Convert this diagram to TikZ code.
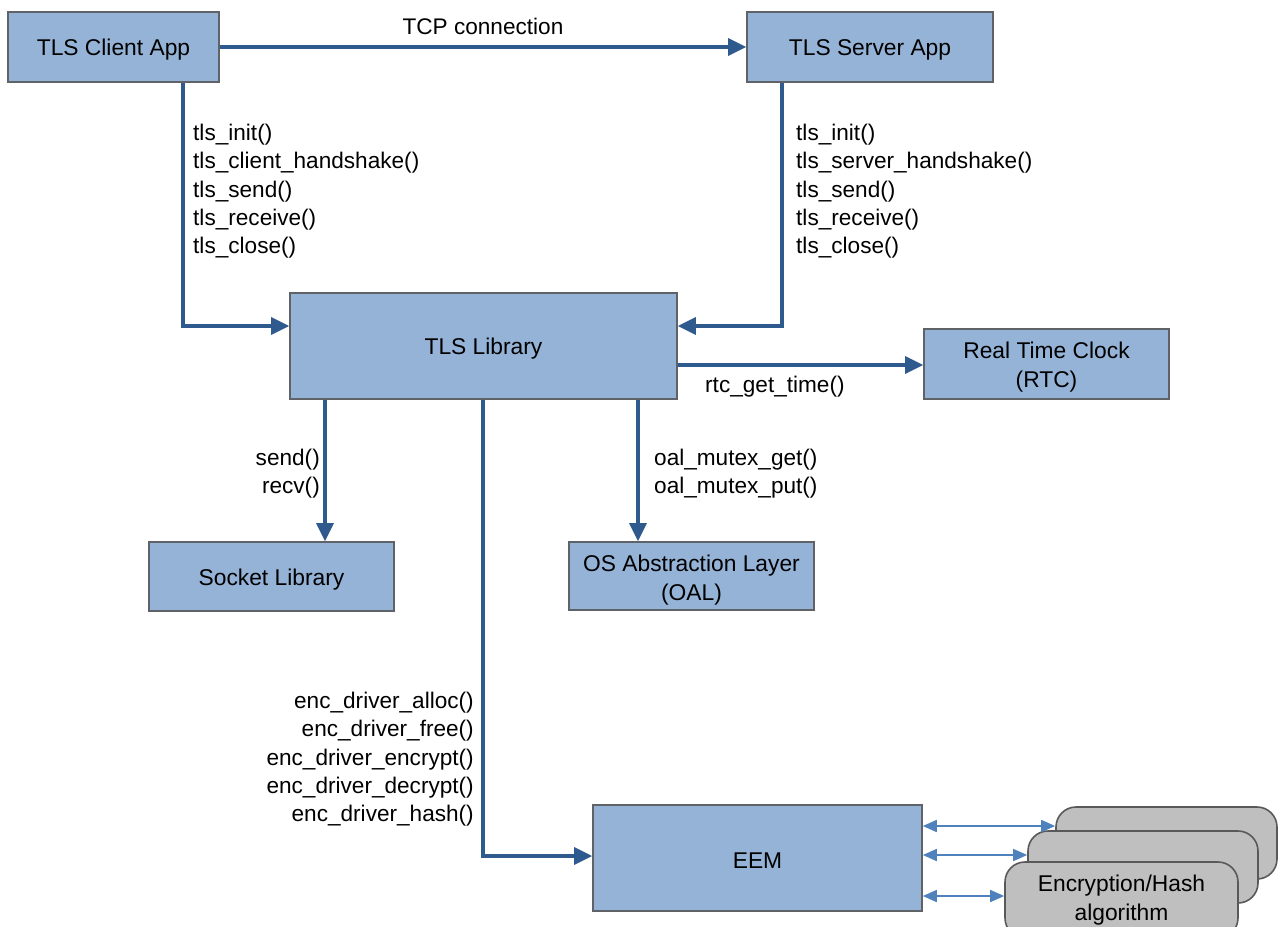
\documentclass[tikz,border=0pt]{standalone}
\usepackage{fontspec}
\setmainfont{Liberation Sans}
\usetikzlibrary{arrows.meta}
\definecolor{boxfill}{HTML}{95B3D7}
\definecolor{boxline}{HTML}{5F6368}
\definecolor{wire}{HTML}{2F5A8E}
\definecolor{thinwire}{HTML}{4F81BD}
\definecolor{algfill}{HTML}{BFBFBF}
\definecolor{algline}{HTML}{595959}
\tikzset{
  block/.style={draw=boxline, line width=1.6pt, fill=boxfill, inner sep=0pt},
  boxtext/.style={inner sep=0pt, align=center, yshift=-3pt,
    font=\fontsize{22.8}{29}\selectfont},
  algbox/.style={draw=algline, line width=1.6pt, fill=algfill, rounded corners=20pt,
    inner sep=0pt, align=center, font=\fontsize{22.8}{28.5}\selectfont},
  call/.style={draw=wire, line width=3.3pt, -{Triangle[length=18pt,width=17pt]}},
  link/.style={draw=thinwire, line width=1.6pt,
    {Triangle[length=14pt,width=12pt]}-{Triangle[length=14pt,width=12pt]}},
  lbl/.style={inner sep=0pt, font=\fontsize{22.6}{28.3}\selectfont}
}
\begin{document}
\begin{tikzpicture}[x=1pt,y=-1pt]
\useasboundingbox (0,0) rectangle (1278,927);

% application and library blocks
\node[block, minimum width=211pt, minimum height=70pt,
  label={[boxtext]center:TLS Client App}] (client) at (113.5,47) {};
\node[block, minimum width=246pt, minimum height=70pt,
  label={[boxtext]center:TLS Server App}] (server) at (870,47) {};
\node[block, minimum width=387pt, minimum height=106pt,
  label={[boxtext]center:TLS Library}] (lib) at (483.5,346) {};
\node[block, minimum width=245pt, minimum height=70pt,
  label={[boxtext]center:Real Time Clock\\(RTC)}] (rtc) at (1046.5,364) {};
\node[block, minimum width=245pt, minimum height=69pt,
  label={[boxtext]center:Socket Library}] (sock) at (271.5,576.5) {};
\node[block, minimum width=245pt, minimum height=68pt,
  label={[boxtext, yshift=-1.5pt]center:OS Abstraction Layer\\(OAL)}] (oal) at (691.5,576) {};
\node[block, minimum width=329pt, minimum height=106pt,
  label={[boxtext]center:EEM}] (eem) at (757.5,858) {};

% stacked algorithm engines
\node[algbox, minimum width=221pt, minimum height=72pt] (alg3) at (1166.5,843) {};
\node[algbox, minimum width=230pt, minimum height=72pt] (alg2) at (1143,867) {};
\node[algbox, minimum width=233pt, minimum height=76pt] (alg1) at (1121.5,900) {Encryption/Hash\\algorithm};

% TCP link between the applications
\draw[call] (client.east) -- (server.west)
  node[lbl, midway, above=11pt] (tcp) {TCP connection};

% API calls into the TLS library
\coordinate (cturn) at (183,326);
\coordinate (sturn) at (782,326);
\draw[call] (client.south -| cturn) -- (cturn) -- (cturn -| lib.west);
\draw[call] (server.south -| sturn) -- (sturn) -- (sturn -| lib.east);
\node[lbl, anchor=north west, align=left] (clientapi) at (193,124)
  {tls\_init()\\tls\_client\_handshake()\\tls\_send()\\tls\_receive()\\tls\_close()};
\node[lbl, anchor=north west, align=left] (serverapi) at (796,124)
  {tls\_init()\\tls\_server\_handshake()\\tls\_send()\\tls\_receive()\\tls\_close()};

% calls out of the TLS library
\coordinate (rtcy) at (0,365);
\draw[call] (lib.east |- rtcy) -- (rtc.west |- rtcy);
\node[lbl, anchor=north west] (rtcapi) at (705,376) {rtc\_get\_time()};

\coordinate (sockx) at (325,0);
\draw[call] (lib.south -| sockx) -- (sock.north -| sockx);
\node[lbl, anchor=north east, align=right] (sockapi) at (320,449) {send()\\recv()};

\coordinate (oalx) at (638,0);
\draw[call] (lib.south -| oalx) -- (oal.north -| oalx);
\node[lbl, anchor=north west, align=left] (oalapi) at (654,449) {oal\_mutex\_get()\\oal\_mutex\_put()};

\coordinate (eturn) at (483,856);
\draw[call] (lib.south -| eturn) -- (eturn) -- (eturn -| eem.west);
\node[lbl, anchor=north east, align=right] (encapi) at (474,692)
  {enc\_driver\_alloc()\\enc\_driver\_free()\\enc\_driver\_encrypt()\\enc\_driver\_decrypt()\\enc\_driver\_hash()};

% EEM to algorithm engines
\coordinate (l3) at (0,826);
\coordinate (l2) at (0,855);
\coordinate (l1) at (0,896);
\draw[link] (eem.east |- l3) -- (alg3.west |- l3);
\draw[link] (eem.east |- l2) -- (alg2.west |- l2);
\draw[link] (eem.east |- l1) -- (alg1.west |- l1);
\end{tikzpicture}
\end{document}
